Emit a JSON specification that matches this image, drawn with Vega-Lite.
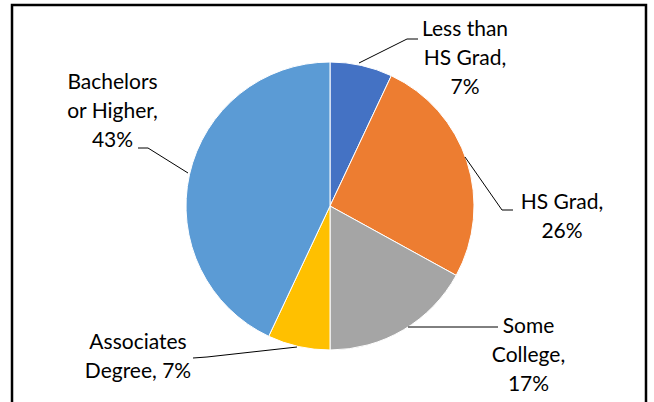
{
  "$schema": "https://vega.github.io/schema/vega-lite/v6.json",
  "width": 654,
  "height": 402,
  "padding": 0,
  "autosize": {"type": "none"},
  "background": "white",
  "config": {"view": {"stroke": null}},
  "datasets": {
    "slices": [
      {"category": "Less than HS Grad", "pct": 7, "ord": 1},
      {"category": "HS Grad", "pct": 26, "ord": 2},
      {"category": "Some College", "pct": 17, "ord": 3},
      {"category": "Associates Degree", "pct": 7, "ord": 4},
      {"category": "Bachelors or Higher", "pct": 43, "ord": 5}
    ],
    "labels": [
      {"text": "Less than\nHS Grad,\n7%", "ux": 0.9375, "uy": 1.2222},
      {"text": "HS Grad,\n26%", "ux": 1.6111, "uy": 0.0208},
      {"text": "Some\nCollege,\n17%", "ux": 1.3785, "uy": -0.8403},
      {"text": "Associates\nDegree, 7%", "ux": -1.3333, "uy": -0.9514},
      {"text": "Bachelors\nor Higher,\n43%", "ux": -1.5104, "uy": 0.8542}
    ],
    "leaders": [
      {"label": "Less than HS Grad", "seq": 1, "ux": 0.2014, "uy": 0.9931},
      {"label": "Less than HS Grad", "seq": 2, "ux": 0.5347, "uy": 1.1597},
      {"label": "Less than HS Grad", "seq": 3, "ux": 0.6111, "uy": 1.1597},
      {"label": "HS Grad", "seq": 1, "ux": 0.9375, "uy": 0.3403},
      {"label": "HS Grad", "seq": 2, "ux": 1.1944, "uy": -0.0278},
      {"label": "HS Grad", "seq": 3, "ux": 1.2708, "uy": -0.0278},
      {"label": "Some College", "seq": 1, "ux": 0.5417, "uy": -0.8403},
      {"label": "Some College", "seq": 2, "ux": 1.1667, "uy": -0.8403},
      {"label": "Associates Degree", "seq": 1, "ux": -0.2292, "uy": -0.9792},
      {"label": "Associates Degree", "seq": 2, "ux": -0.8542, "uy": -1.0486},
      {"label": "Associates Degree", "seq": 3, "ux": -0.9514, "uy": -1.0556},
      {"label": "Bachelors or Higher", "seq": 1, "ux": -0.9861, "uy": 0.2292},
      {"label": "Bachelors or Higher", "seq": 2, "ux": -1.2639, "uy": 0.4028},
      {"label": "Bachelors or Higher", "seq": 3, "ux": -1.3333, "uy": 0.4028}
    ],
    "frame": [
      {"seq": 1, "ux": -2.2083, "uy": -1.3611},
      {"seq": 2, "ux": -2.2083, "uy": 1.3958},
      {"seq": 3, "ux": 2.1944, "uy": 1.3958},
      {"seq": 4, "ux": 2.1944, "uy": -1.3611}
    ]
  },
  "layer": [
    {
      "data": {"name": "slices"},
      "mark": {"type": "arc", "outerRadius": 144, "stroke": "white", "strokeWidth": 1},
      "encoding": {
        "x": {"datum": 0, "type": "quantitative", "scale": {"domain": [-2.2917, 2.25], "nice": false, "zero": false}, "axis": null},
        "y": {"datum": 0, "type": "quantitative", "scale": {"domain": [-1.3611, 1.4306], "nice": false, "zero": false}, "axis": null},
        "theta": {"field": "pct", "type": "quantitative", "stack": true},
        "order": {"field": "ord", "type": "quantitative"},
        "color": {
          "field": "category", "type": "nominal", "legend": null,
          "scale": {
            "domain": ["Less than HS Grad", "HS Grad", "Some College", "Associates Degree", "Bachelors or Higher"],
            "range": ["#4472C4", "#ED7D31", "#A5A5A5", "#FFC000", "#5B9BD5"]
          }
        }
      }
    },
    {
      "data": {"name": "leaders"},
      "mark": {"type": "line", "color": "black", "strokeWidth": 1},
      "encoding": {
        "x": {"field": "ux", "type": "quantitative", "scale": {"domain": [-2.2917, 2.25], "nice": false, "zero": false}, "axis": null},
        "y": {"field": "uy", "type": "quantitative", "scale": {"domain": [-1.3611, 1.4306], "nice": false, "zero": false}, "axis": null},
        "detail": {"field": "label", "type": "nominal"},
        "order": {"field": "seq", "type": "quantitative"}
      }
    },
    {
      "data": {"name": "labels"},
      "mark": {"type": "text", "lineBreak": "\n", "align": "center", "baseline": "middle", "font": "Lato", "fontSize": 21, "lineHeight": 29, "color": "black"},
      "encoding": {
        "x": {"field": "ux", "type": "quantitative", "scale": {"domain": [-2.2917, 2.25], "nice": false, "zero": false}, "axis": null},
        "y": {"field": "uy", "type": "quantitative", "scale": {"domain": [-1.3611, 1.4306], "nice": false, "zero": false}, "axis": null},
        "text": {"field": "text", "type": "nominal"}
      }
    },
    {
      "data": {"name": "frame"},
      "mark": {"type": "line", "color": "black", "strokeWidth": 2.5},
      "encoding": {
        "x": {"field": "ux", "type": "quantitative", "scale": {"domain": [-2.2917, 2.25], "nice": false, "zero": false}, "axis": null},
        "y": {"field": "uy", "type": "quantitative", "scale": {"domain": [-1.3611, 1.4306], "nice": false, "zero": false}, "axis": null},
        "order": {"field": "seq", "type": "quantitative"}
      }
    }
  ]
}
